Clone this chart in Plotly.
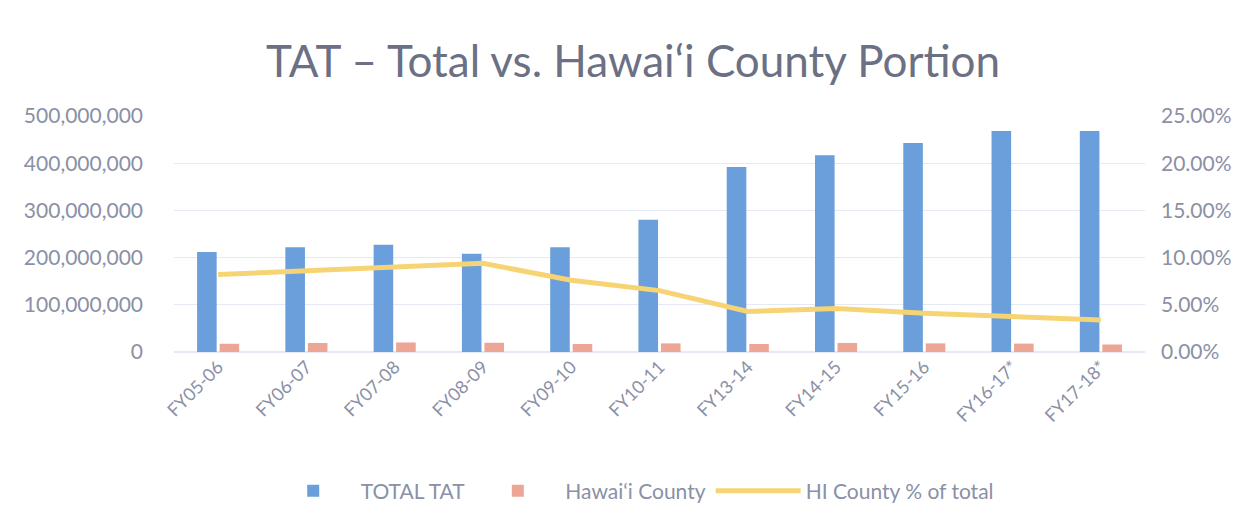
import plotly.graph_objects as go

categories = ["FY05-06", "FY06-07", "FY07-08", "FY08-09", "FY09-10", "FY10-11",
              "FY13-14", "FY14-15", "FY15-16", "FY16-17*", "FY17-18*"]
total_tat = [212e6, 222e6, 227e6, 208e6, 222e6, 280e6, 392e6, 417e6, 443e6, 468e6, 468e6]
hawaii_county = [17.4e6, 19.1e6, 20.2e6, 19.6e6, 16.9e6, 18.2e6, 16.9e6, 19.2e6, 18.2e6, 17.8e6, 15.9e6]
hi_pct = [0.082, 0.086, 0.089, 0.094, 0.076, 0.065, 0.043, 0.046, 0.041, 0.038, 0.034]

left_ticks = [0, 100e6, 200e6, 300e6, 400e6, 500e6]
left_labels = ["0", "100,000,000", "200,000,000", "300,000,000", "400,000,000", "500,000,000"]
right_ticks = [0, 0.05, 0.10, 0.15, 0.20, 0.25]
right_labels = ["0.00%", "5.00%", "10.00%", "15.00%", "20.00%", "25.00%"]

txt = "#8a90a6"
font = "Lato, 'Open Sans', sans-serif"
W, H = 1246, 519

fig = go.Figure()
fig.add_trace(go.Bar(x=categories, y=total_tat, name="TOTAL TAT",
                     marker=dict(color="#6a9fdc", line=dict(width=0))))
fig.add_trace(go.Bar(x=categories, y=hawaii_county, name="Hawai\u2018i County",
                     marker=dict(color="#eda595", line=dict(width=0))))
fig.add_trace(go.Scatter(x=categories, y=hi_pct, name="HI County % of total", yaxis="y2",
                         mode="lines", line=dict(color="#f7d473", width=5)))

fig.update_layout(
    width=W, height=H,
    paper_bgcolor="white", plot_bgcolor="white",
    margin=dict(l=166, r=109, t=108, b=175),
    title=dict(text="TAT \u2013 Total vs. Hawai\u2018i County Portion", x=625 / W, xanchor="center",
               y=1 - 54 / H, yanchor="middle",
               font=dict(family=font, size=44, color="#6b7084")),
    barmode="group", bargap=0.49, bargroupgap=0.13,
    font=dict(family=font, color=txt, size=21),
    xaxis=dict(tickangle=-45, showgrid=False, showline=False, ticks="", automargin=False,
               tickfont=dict(size=18, color=txt)),
    yaxis=dict(range=[0, 500e6], tickvals=left_ticks, ticktext=left_labels,
               showgrid=True, gridcolor="#e4e9f3", gridwidth=1, zeroline=True,
               zerolinecolor="#e4e9f3", ticks="", automargin=False, ticklabelstandoff=30,
               tickfont=dict(size=21, color=txt)),
    yaxis2=dict(range=[0, 0.25], tickvals=right_ticks, ticktext=right_labels,
                overlaying="y", side="right", showgrid=False, zeroline=False,
                automargin=False, ticklabelstandoff=15,
                tickfont=dict(size=21, color=txt)),
    legend=dict(orientation="h", x=588 / W, xanchor="center", yref="container",
                y=1 - 483 / H, yanchor="middle",
                font=dict(size=21, color=txt), traceorder="normal", itemwidth=85),
    showlegend=True,
)

fig.write_html("out.html")
